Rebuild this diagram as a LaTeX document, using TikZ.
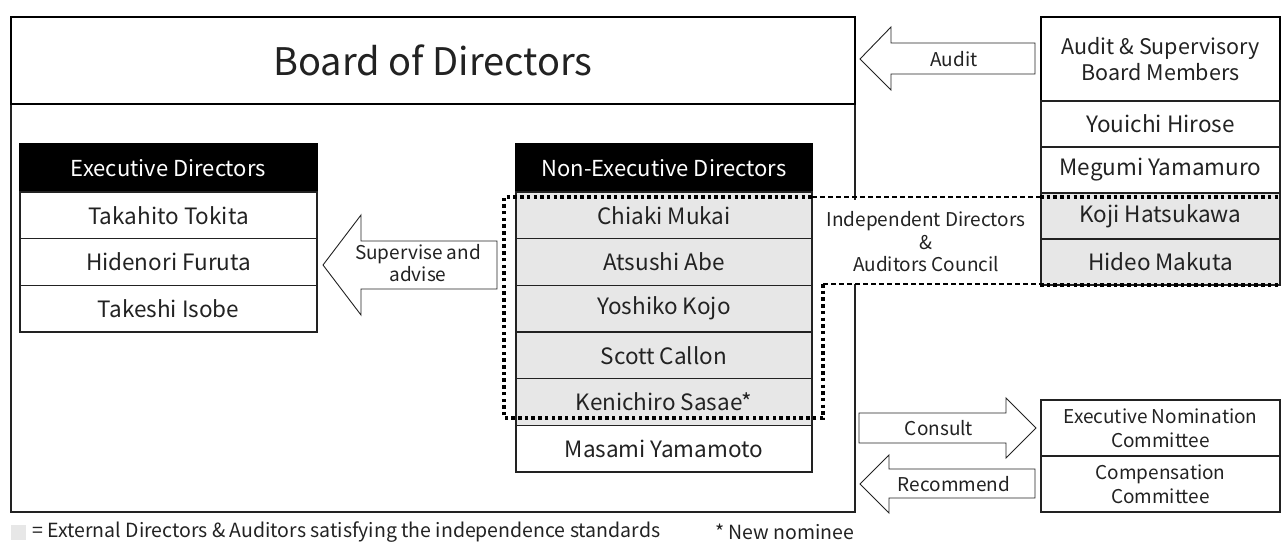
\documentclass[tikz,border=0pt]{standalone}
\usepackage{fontspec}
\setmainfont{Noto Sans CJK JP}
\definecolor{indep}{RGB}{231,231,231}
\definecolor{ink}{RGB}{34,34,34}
\begin{document}
\begin{tikzpicture}[x=1pt,y=-1pt,
  thinbox/.style={draw=ink, line width=1.1pt, inner sep=0pt, text=ink},
  thickbox/.style={draw=black, line width=2.8pt, inner sep=0pt, text=ink},
  namefont/.style={font=\fontsize{22.5}{26}\selectfont},
  labfont/.style={font=\fontsize{19}{21.5}\selectfont, text=ink, align=center, inner sep=0pt},
  execcol/.style={thinbox, namefont, minimum width=297pt, minimum height=46.67pt},
  necol/.style={thinbox, namefont, minimum width=296pt, minimum height=46.67pt},
  audcol/.style={thinbox, namefont, minimum width=239pt, minimum height=46pt},
  header/.style={fill=black, text=white, draw=black, line width=1.1pt, inner sep=0pt, font=\fontsize{22}{26}\selectfont, minimum height=48pt},
  blockarrow/.style={draw=ink, line width=0.9pt, fill=white, line join=miter},
  bigdots/.style={draw=black, line width=3.5pt, dash pattern=on 3.5pt off 3.2pt},
  smalldash/.style={draw=black, line width=2pt, dash pattern=on 5pt off 3pt}
]
\useasboundingbox (0,0) rectangle (1282,542);

% board body and title box
\node[thinbox, minimum width=844pt, minimum height=408pt] (body) at (433,308) {};
\node[thickbox, fill=white, minimum width=844pt, minimum height=87pt, font=\fontsize{38}{41}\selectfont] (board) at (433,60.5) {Board of Directors};

% council label (white background hides board border)
\node[fill=white, minimum width=226pt, minimum height=84pt, labfont] (council) at (926,242)
  {Independent Directors\\[1pt]\&\\[1pt]Auditors Council};

% executive directors
\node[header, minimum width=297pt] (exh) at (168.5,168) {Executive Directors};
\node[execcol] (ex1) at (168.5,215.33) {Takahito Tokita};
\node[execcol] (ex2) at (168.5,262) {Hidenori Furuta};
\node[execcol] (ex3) at (168.5,308.67) {Takeshi Isobe};

% non-executive directors
\node[header, minimum width=296pt] (neh) at (664,168) {Non-Executive Directors};
\node[necol, fill=indep] (ne1) at (664,215.33) {Chiaki Mukai};
\node[necol, fill=indep] (ne2) at (664,262) {Atsushi Abe};
\node[necol, fill=indep] (ne3) at (664,308.67) {Yoshiko Kojo};
\node[necol, fill=indep] (ne4) at (664,355.33) {Scott Callon};
\node[necol, fill=indep] (ne5) at (664,402) {Kenichiro Sasae*};
\node[necol] (ne6) at (664,448.67) {Masami Yamamoto};

% audit & supervisory board
\node[thickbox, fill=white, font=\fontsize{21.5}{25}\selectfont, align=center, minimum width=239pt, minimum height=84pt] (aud) at (1160.5,59)
  {Audit \& Supervisory\\[1pt]Board Members};
\node[audcol] (au1) at (1160.5,124) {Youichi Hirose};
\node[audcol] (au2) at (1160.5,170) {Megumi Yamamuro};
\node[audcol, fill=indep] (au3) at (1160.5,216) {Koji Hatsukawa};
\node[audcol, fill=indep] (au4) at (1160.5,262) {Hideo Makuta};

% committees
\node[thinbox, minimum width=239pt, minimum height=56pt, labfont] (nom) at (1160.5,428)
  {Executive Nomination\\[2pt]Committee};
\node[thinbox, minimum width=239pt, minimum height=56pt, labfont] (comp) at (1160.5,484)
  {Compensation\\[2pt]Committee};

% independent council boundary
\draw[bigdots] (823,284) -- (823,418) -- (504,418) -- (504,197) -- (812,197);
\draw[smalldash] (812,197) -- (1040,197);
\draw[smalldash] (823,284) -- (1040,284);
\draw[bigdots] (1040,197) -- (1280,197);
\draw[bigdots] (1040,285) -- (1280,285);

% block arrows
\draw[blockarrow] (860,59) -- (891,27) -- (891,43) -- (1035,43) -- (1035,74) -- (891,74) -- (891,90) -- cycle;
\node[labfont] (laudit) at (954,59) {Audit};

\draw[blockarrow] (323,265) -- (361,215) -- (361,241) -- (497,241) -- (497,289) -- (361,289) -- (361,315) -- cycle;
\node[labfont] (lsup) at (418,263) {Supervise and\\advise};

\draw[blockarrow] (1036,428) -- (1006,398) -- (1006,413) -- (859,413) -- (859,443) -- (1006,443) -- (1006,458) -- cycle;
\node[labfont] (lcons) at (939,428) {Consult};

\draw[blockarrow] (860,484) -- (889,455) -- (889,469) -- (1035,469) -- (1035,498) -- (889,498) -- (889,513) -- cycle;
\node[labfont] (lrec) at (954,484) {Recommend};

% legend
\fill[indep] (11,525) rectangle (26,540);
\node[labfont, anchor=west, font=\fontsize{19.5}{22}\selectfont] (leg) at (32,532) {= External Directors \& Auditors satisfying the independence standards};
\node[labfont, anchor=west, font=\fontsize{19.5}{22}\selectfont] (nn) at (715,532) {* New nominee};
\end{tikzpicture}
\end{document}
